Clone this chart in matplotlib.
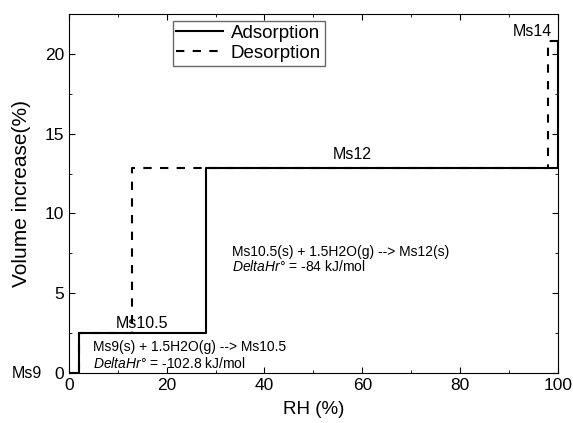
import matplotlib.pyplot as plt
from matplotlib.ticker import MultipleLocator

plt.rcParams['font.family'] = ['Liberation Sans', 'DejaVu Sans']
plt.rcParams['mathtext.fontset'] = 'custom'
plt.rcParams['mathtext.it'] = 'Liberation Sans:italic'
plt.rcParams['mathtext.rm'] = 'Liberation Sans'

# adsorption / desorption step curves
ads_rh = [0, 2, 2, 28, 28, 100, 100]
ads_vol = [0, 0, 2.5, 2.5, 12.85, 12.85, 20.8]
des_rh = [100, 98, 98, 13, 13, 2, 2, 0]
des_vol = [20.8, 20.8, 12.85, 12.85, 2.5, 2.5, 0, 0]

fig = plt.figure(figsize=(5.73, 4.23), dpi=100)
ax = fig.add_axes([0.120, 0.118, 0.854, 0.849])

ax.plot(ads_rh, ads_vol, color='black', lw=1.5, label='Adsorption')
ax.plot(des_rh, des_vol, color='black', lw=1.5, ls=(0, (4, 4)), label='Desorption')

ax.set_xlim(0, 100)
ax.set_ylim(0, 22.5)
ax.xaxis.set_major_locator(MultipleLocator(20))
ax.xaxis.set_minor_locator(MultipleLocator(10))
ax.yaxis.set_major_locator(MultipleLocator(5))
ax.yaxis.set_minor_locator(MultipleLocator(2.5))
ax.tick_params(which='both', direction='in', top=True, right=True, labelsize=12.5)
ax.tick_params(which='major', length=4)
ax.tick_params(which='minor', length=2.5)

ax.set_xlabel('RH (%)', fontsize=13.5, labelpad=6)
ax.set_ylabel('Volume increase(%)', fontsize=15, labelpad=10)

# phase labels
ax.text(-5.5, 0, 'Ms9', fontsize=11.5, ha='right', va='center', clip_on=False)
ax.text(15, 3.1, 'Ms10.5', fontsize=11.5, ha='center', va='center')
ax.text(58, 13.7, 'Ms12', fontsize=11.5, ha='center', va='center')
ax.text(98.7, 21.4, 'Ms14', fontsize=11.5, ha='right', va='center')

# reactions
ax.text(5, 1.65, 'Ms9(s) + 1.5H2O(g) --> Ms10.5', fontsize=10, va='center')
ax.text(5, 0.62, r'$\it{DeltaHr}$° = -102.8 kJ/mol', fontsize=10, va='center')
ax.text(33.3, 7.6, 'Ms10.5(s) + 1.5H2O(g) --> Ms12(s)', fontsize=10, va='center')
ax.text(33.3, 6.7, r'$\it{DeltaHr}$° = -84 kJ/mol', fontsize=10, va='center')

leg = ax.legend(loc='upper left', bbox_to_anchor=(0.212, 0.98), fontsize=13.5,
                fancybox=False, edgecolor='#444444', handlelength=2.5,
                handletextpad=0.4, borderpad=0.2, labelspacing=0.15,
                borderaxespad=0)
leg.get_frame().set_linewidth(1.0)

plt.savefig('out.png', dpi=100)
